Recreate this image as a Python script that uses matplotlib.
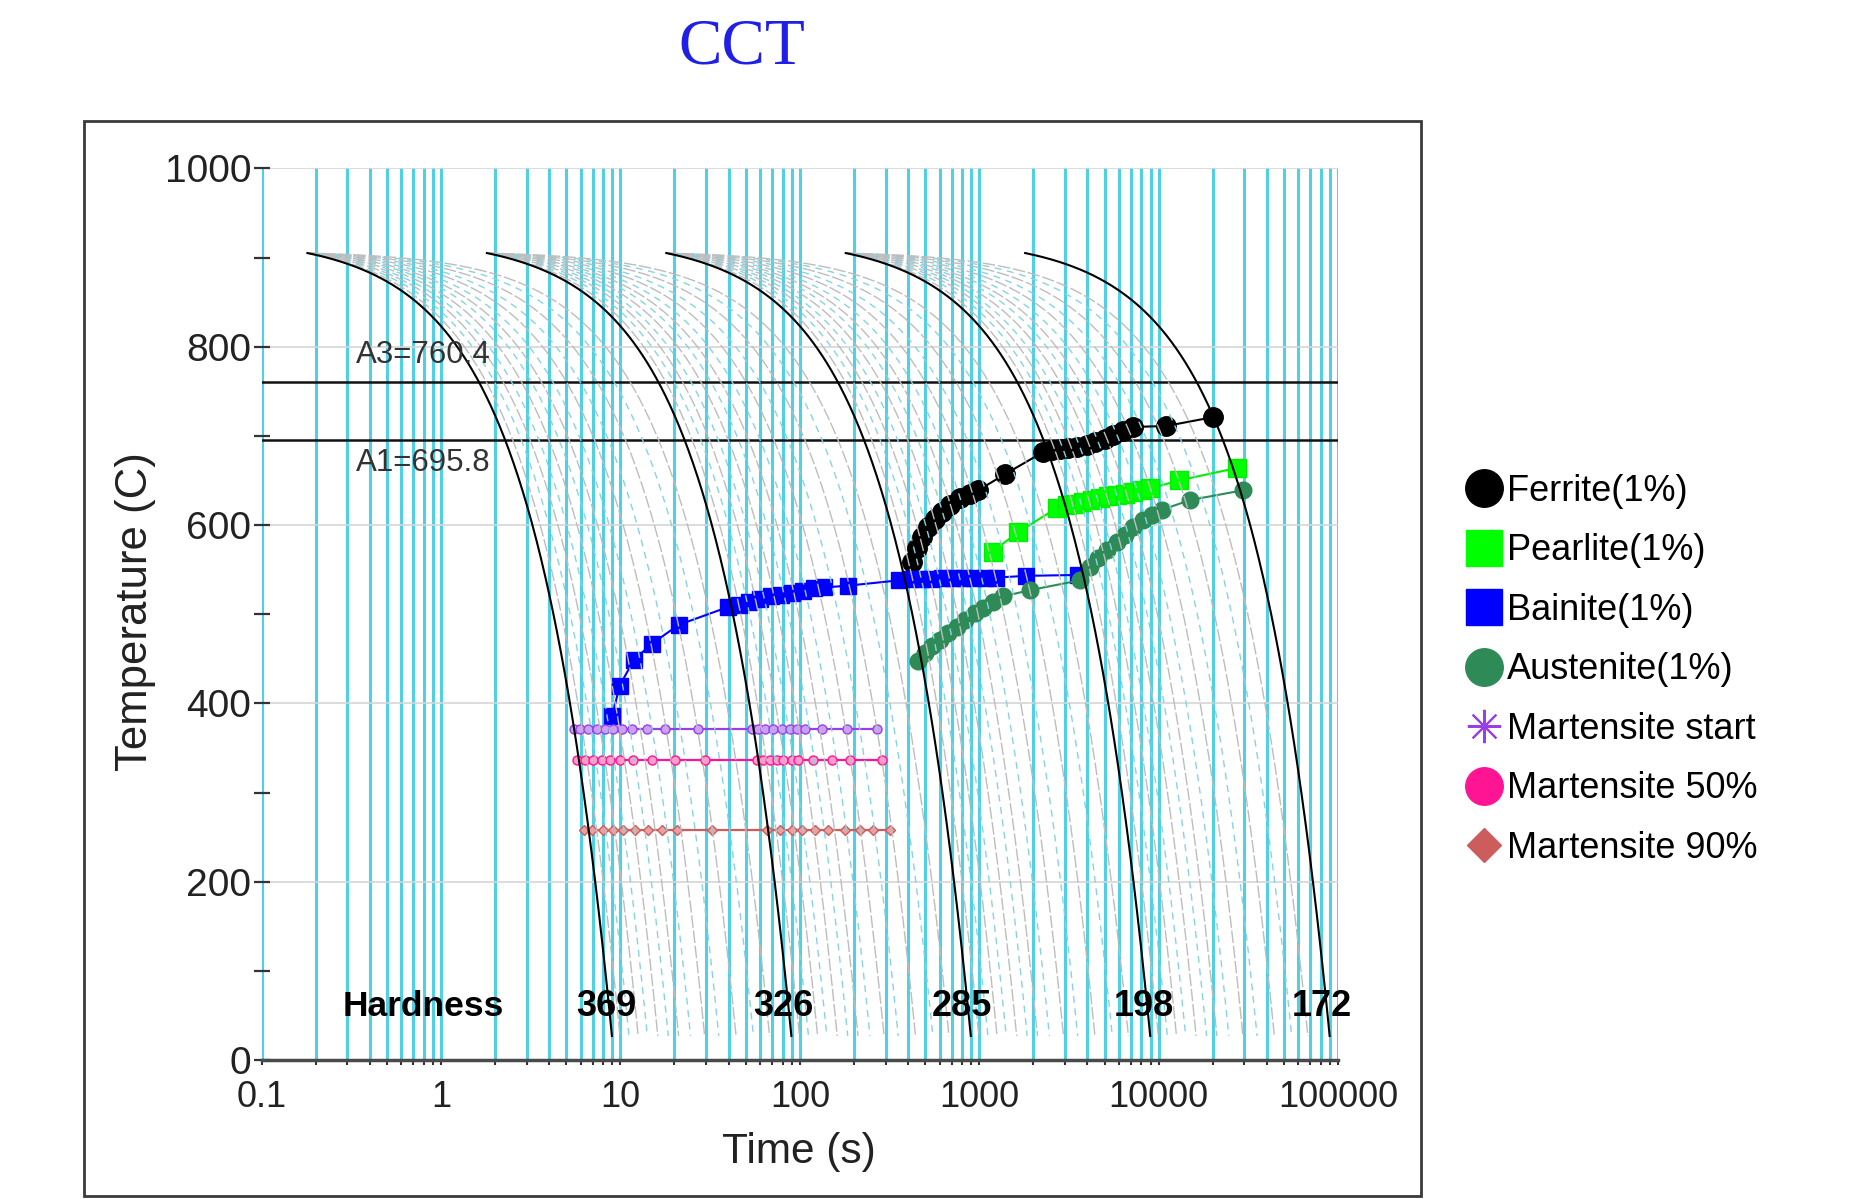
import numpy as np
import matplotlib
matplotlib.use('Agg')
import matplotlib.pyplot as plt
from matplotlib.lines import Line2D
from matplotlib.patches import Rectangle
from matplotlib.ticker import LogLocator, NullFormatter, FixedLocator, FixedFormatter

plt.rcParams['font.family'] = ['Liberation Sans', 'DejaVu Sans']

# ---- cooling curves (linear cooling from the start temperature) ----
T_START = 905.0
T_END = 27.0
black_t0 = [0.18, 1.8, 18, 180, 1800]        # s
black_rate = [100, 10, 1, 0.1, 0.01]         # C/s
# slower curves fanning out of each black curve (fraction of its rate)
gray_frac = [0.9, 0.8, 0.71, 0.63, 0.55, 0.48, 0.42, 0.36, 0.3, 0.25, 0.2, 0.16, 0.13]

hardness = ['369', '326', '285', '198', '172']
hardness_t = [8.3, 81, 800, 8240, 81000]

A3 = 760.4
A1 = 695.8

# ---- transformation start points ----
ferrite_t = [420, 448, 477, 520, 566, 617, 687, 780, 887, 987, 1390, 2275, 2534,
             2820, 3135, 3490, 3970, 4420, 5020, 5590, 6350, 7220, 10960, 20100]
ferrite_T = [559, 574, 587, 598, 607, 615, 622, 630, 635, 639, 657, 682, 684,
             685, 686, 688, 690, 693, 697, 701, 705, 710, 711, 721]

pearlite_t = [1185, 1643, 2700, 3070, 3415, 3800, 4235, 4710, 5240, 5835, 6490,
              7220, 8035, 8950, 12970, 27200]
pearlite_T = [570, 592, 619, 622, 624, 626, 628, 630, 632, 634, 635,
              637, 639, 641, 650, 664]

bainite_t = [9.0, 9.9, 11.9, 15.0, 21.1, 39.7, 45.5, 52.2, 59.9, 68.8, 78.9, 90.5,
             103.9, 119.2, 136.8, 185.5, 358, 411, 471, 541, 620, 713, 817, 938,
             1076, 1234, 1820, 3545]
bainite_T = [386, 420, 449, 467, 488, 508, 510, 514, 517, 520, 522, 524,
             526, 529, 530, 532, 538, 539, 540, 540, 541, 541, 541, 541,
             541, 541, 543, 544]

austenite_t = [457, 498, 543, 604, 672, 748, 832, 946, 1052, 1196, 1361, 1918,
               3640, 4140, 4605, 5130, 5835, 6490, 7220, 8200, 9140, 10400, 14930, 29600]
austenite_T = [447, 456, 464, 471, 479, 486, 493, 501, 507, 514, 520, 527,
               538, 553, 563, 572, 581, 589, 598, 606, 611, 617, 628, 639]

ms_T = 371
ms_t = [5.51, 5.94, 6.61, 7.37, 8.20, 9.12, 10.16, 11.54, 14.0, 17.7, 27.2,
        53.9, 58.6, 63.9, 71.1, 79.2, 88.1, 95.9, 106.9, 132.3, 182.4, 268]
m50_T = 337
m50_t = [5.70, 6.34, 7.05, 7.86, 8.74, 9.94, 11.79, 14.9, 20.1, 29.6,
         57.4, 62.5, 68.1, 74.3, 80.8, 90.0, 98.0, 118.8, 150.4, 190.2, 286]
m90_T = 258
m90_t = [6.3, 6.91, 8.02, 9.12, 10.36, 12.04, 14.29, 16.97, 20.6, 32.2,
         65.3, 77.5, 90.0, 102.3, 121.4, 144, 178.3, 216, 256.6, 318]

xticks = [0.1, 1, 10, 100, 1000, 10000, 100000]
xtick_labels = ['0.1', '1', '10', '100', '1000', '10000', '100000']

# ---- figure ----
fig = plt.figure(figsize=(18.62, 11.99), dpi=100)
ax = fig.add_axes([0.1405, 0.1159, 0.5782, 0.7437])
ax.set_xscale('log')
ax.set_xlim(0.1, 100000)
ax.set_ylim(0, 1000)

# outer frame and title
fig.patches.append(Rectangle((0.0451, 0.0025), 0.718, 0.8965, transform=fig.transFigure,
                             fill=False, ec='#3a3a3a', lw=2.0))
fig.text(0.3985, 0.9604, 'CCT', ha='center', va='center', color='#1f1fe6',
         fontsize=47, family=['Liberation Serif', 'DejaVu Serif'])

# grid
ax.xaxis.grid(True, which='both', color='#4fd0e3', lw=2.2, zorder=0.5)
ax.yaxis.grid(True, which='major', color='#d6d6d6', lw=1.2, zorder=0.5)
ax.set_axisbelow(True)

# gray cooling curves
for k in range(4):
    for i, f in enumerate(gray_frac):
        r = black_rate[k] * f
        t_end = black_t0[k] + (T_START - T_END) / r
        t = np.geomspace(black_t0[k], min(t_end, 1e5), 300)
        if i % 2 == 0:
            ax.plot(t, T_START - r * (t - black_t0[k]), color='#bdbdbd', lw=1.0,
                    ls=(0, (9, 2)), zorder=3.5)
        else:
            ax.plot(t, T_START - r * (t - black_t0[k]), color='#86d4e2', lw=1.0,
                    ls=(0, (5, 4)), zorder=3.4)

# black cooling curves
for t0, r in zip(black_t0, black_rate):
    t_end = t0 + (T_START - T_END) / r
    t = np.geomspace(t0, t_end, 400)
    ax.plot(t, T_START - r * (t - t0), color='black', lw=1.5, zorder=5)

# critical temperatures
ax.axhline(A3, color='#111111', lw=1.8, zorder=2)
ax.axhline(A1, color='#111111', lw=1.8, zorder=2)
ax.text(0.335, 791, 'A3=760.4', fontsize=22.5, color='#333333', va='center', zorder=6)
ax.text(0.335, 669, 'A1=695.8', fontsize=22.5, color='#333333', va='center', zorder=6)

# transformation starts
ax.plot(ferrite_t, ferrite_T, color='black', lw=1.5, marker='o', ms=14, zorder=3)
ax.plot(pearlite_t, pearlite_T, color='#00ee00', lw=1.5, marker='s', ms=13,
        mfc='#00ff00', mec='#00ee00', zorder=3)
ax.plot(bainite_t, bainite_T, color='#0000ff', lw=1.5, marker='s', ms=12, zorder=3)
ax.plot(austenite_t, austenite_T, color='#2e8b57', lw=1.5, marker='o', ms=12, zorder=3)

ax.plot(ms_t, [ms_T] * len(ms_t), color='#9a3fe8', lw=1.6, marker='o', ms=6.5,
        mfc='#c9a0f5', zorder=3)
ax.plot(m50_t, [m50_T] * len(m50_t), color='#ff1493', lw=1.6, marker='o', ms=6.5,
        mfc='#ff9ccc', zorder=3)
ax.plot(m90_t, [m90_T] * len(m90_t), color='#cd5c5c', lw=1.6, marker='D', ms=5.5,
        mfc='#e8a0a0', zorder=3)

# hardness labels
ax.text(0.8, 60, 'Hardness', fontsize=25.5, fontweight='bold', ha='center', va='center', zorder=6)
for lab, tx in zip(hardness, hardness_t):
    ax.text(tx, 60, lab, fontsize=26, fontweight='bold', ha='center', va='center', zorder=6)

# axes styling
for side in ['left', 'right', 'top']:
    ax.spines[side].set_visible(False)
ax.spines['bottom'].set_color('#4a4a4a')
ax.spines['bottom'].set_linewidth(2.5)

ax.xaxis.set_major_locator(FixedLocator(xticks))
ax.xaxis.set_major_formatter(FixedFormatter(xtick_labels))
ax.xaxis.set_minor_locator(LogLocator(base=10, subs=np.arange(2, 10)))
ax.xaxis.set_minor_formatter(NullFormatter())
ax.set_yticks([0, 200, 400, 600, 800, 1000])
ax.set_yticks([100, 300, 500, 700, 900], minor=True)

ax.tick_params(axis='x', which='both', direction='out', length=3.5, width=1.5,
               color='#333333', labelsize=26, labelcolor='#222222', pad=11)
ax.tick_params(axis='y', which='both', direction='inout', length=11, width=1.6,
               color='#333333', labelsize=28, labelcolor='#222222', pad=2)

ax.set_xlabel('Time (s)', fontsize=30.5, color='#222222', va='center')
ax.xaxis.set_label_coords(0.499, -0.103)
ax.set_ylabel('Temperature (C)', fontsize=31.5, color='#222222', va='center')
ax.yaxis.set_label_coords(-0.117, 0.503)

# legend
handles = [
    Line2D([], [], ls='none', marker='o', ms=27, color='black'),
    Line2D([], [], ls='none', marker='s', ms=26, color='#00ff00'),
    Line2D([], [], ls='none', marker='s', ms=26, color='#0000ff'),
    Line2D([], [], ls='none', marker='o', ms=27, color='#2e8b57'),
    Line2D([], [], ls='none', marker=(8, 2, 0), ms=24, color='#9a3fe8', mew=1.5),
    Line2D([], [], ls='none', marker='o', ms=27, color='#ff1493'),
    Line2D([], [], ls='none', marker='D', ms=17, color='#cd5c5c'),
]
labels = ['Ferrite(1%)', 'Pearlite(1%)', 'Bainite(1%)', 'Austenite(1%)',
          'Martensite start', 'Martensite 50%', 'Martensite 90%']
fig.legend(handles, labels, loc='upper left', bbox_to_anchor=(0.788, 0.605),
           frameon=False, fontsize=26, handlelength=0.95, handletextpad=0.15,
           labelspacing=0.68, borderpad=0, borderaxespad=0)

fig.savefig('out.png', dpi=100)
